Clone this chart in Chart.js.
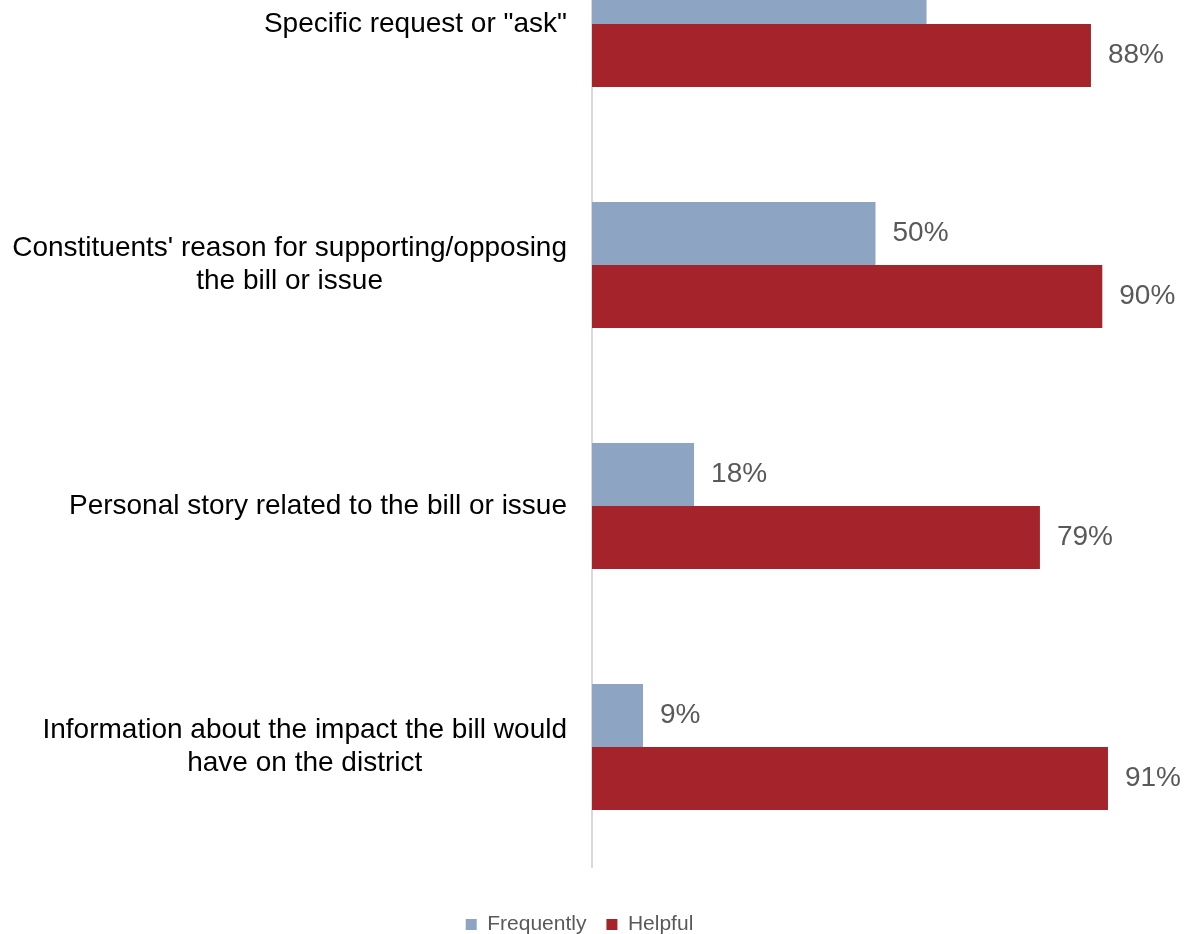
<!DOCTYPE html>
<html>
<head>
<meta charset="utf-8">
<script src="https://cdn.jsdelivr.net/npm/chart.js@4.4.1/dist/chart.umd.min.js"></script>
<style>
  html, body { margin: 0; padding: 0; background: #fff; overflow: hidden; }
  body { width: 1184px; height: 934px; position: relative; }
  #chart { position: absolute; left: 0; top: -120px; }
</style>
</head>
<body>
<canvas id="chart" width="1184" height="1070"></canvas>
<script>
// --- data ---
const categories = [
    ['Specific request or "ask"'],
    ["Constituents' reason for supporting/opposing", 'the bill or issue'],
    ['Personal story related to the bill or issue'],
    ['Information about the impact the bill would', 'have on the district']
];
const frequently = [59, 50, 18, 9];
const helpful = [88, 90, 79, 91];

const FONT = "'Liberation Sans', Arial, sans-serif";

// labels at the end of each bar
const valueLabels = {
    id: 'valueLabels',
    afterDatasetsDraw(chart) {
        const ctx = chart.ctx;
        ctx.save();
        ctx.font = '28px ' + FONT;
        ctx.fillStyle = '#595959';
        ctx.textAlign = 'left';
        ctx.textBaseline = 'middle';
        chart.data.datasets.forEach(function(ds, di) {
            chart.getDatasetMeta(di).data.forEach(function(bar, i) {
                ctx.fillText(ds.data[i] + '%', bar.x + 17, bar.y);
            });
        });
        ctx.restore();
    }
};

// category labels: block right aligned, lines centred inside the block
const categoryLabels = {
    id: 'categoryLabels',
    afterDraw(chart) {
        const ctx = chart.ctx;
        const yScale = chart.scales.y;
        const right = chart.chartArea.left - 25;
        ctx.save();
        ctx.font = '28px ' + FONT;
        ctx.fillStyle = '#000000';
        ctx.textAlign = 'center';
        ctx.textBaseline = 'middle';
        chart.data.labels.forEach(function(lines, i) {
            const cy = yScale.getPixelForValue(i);
            const w = Math.max.apply(null, lines.map(l => ctx.measureText(l).width));
            lines.forEach(function(line, j) {
                ctx.fillText(line, right - w / 2, cy + (j - (lines.length - 1) / 2) * 33);
            });
        });
        ctx.restore();
    }
};

new Chart(document.getElementById('chart'), {
    type: 'bar',
    data: {
        labels: categories,
        datasets: [
            { label: 'Frequently', data: frequently, backgroundColor: '#8EA4C3' },
            { label: 'Helpful', data: helpful, backgroundColor: '#A5242B' }
        ]
    },
    options: {
        indexAxis: 'y',
        responsive: false,
        animation: false,
        devicePixelRatio: 1,
        layout: { padding: { top: 23.5, right: 25, bottom: 5, left: 0 } },
        datasets: { bar: { categoryPercentage: 0.523, barPercentage: 1.0 } },
        scales: {
            x: {
                min: 0, max: 100,
                ticks: { display: false },
                grid: { display: false },
                border: { display: false },
                afterFit(scale) { scale.height = 26.5; }
            },
            y: {
                ticks: { display: false },
                grid: { display: false },
                border: { display: true, color: '#D9D9D9', width: 2 },
                afterFit(scale) { scale.width = 592; }
            }
        },
        plugins: {
            tooltip: { enabled: false },
            legend: {
                position: 'bottom',
                labels: {
                    boxWidth: 11,
                    boxHeight: 11,
                    padding: 20,
                    color: '#595959',
                    font: { family: FONT, size: 21 }
                }
            }
        }
    },
    plugins: [valueLabels, categoryLabels]
});
</script>
</body>
</html>
